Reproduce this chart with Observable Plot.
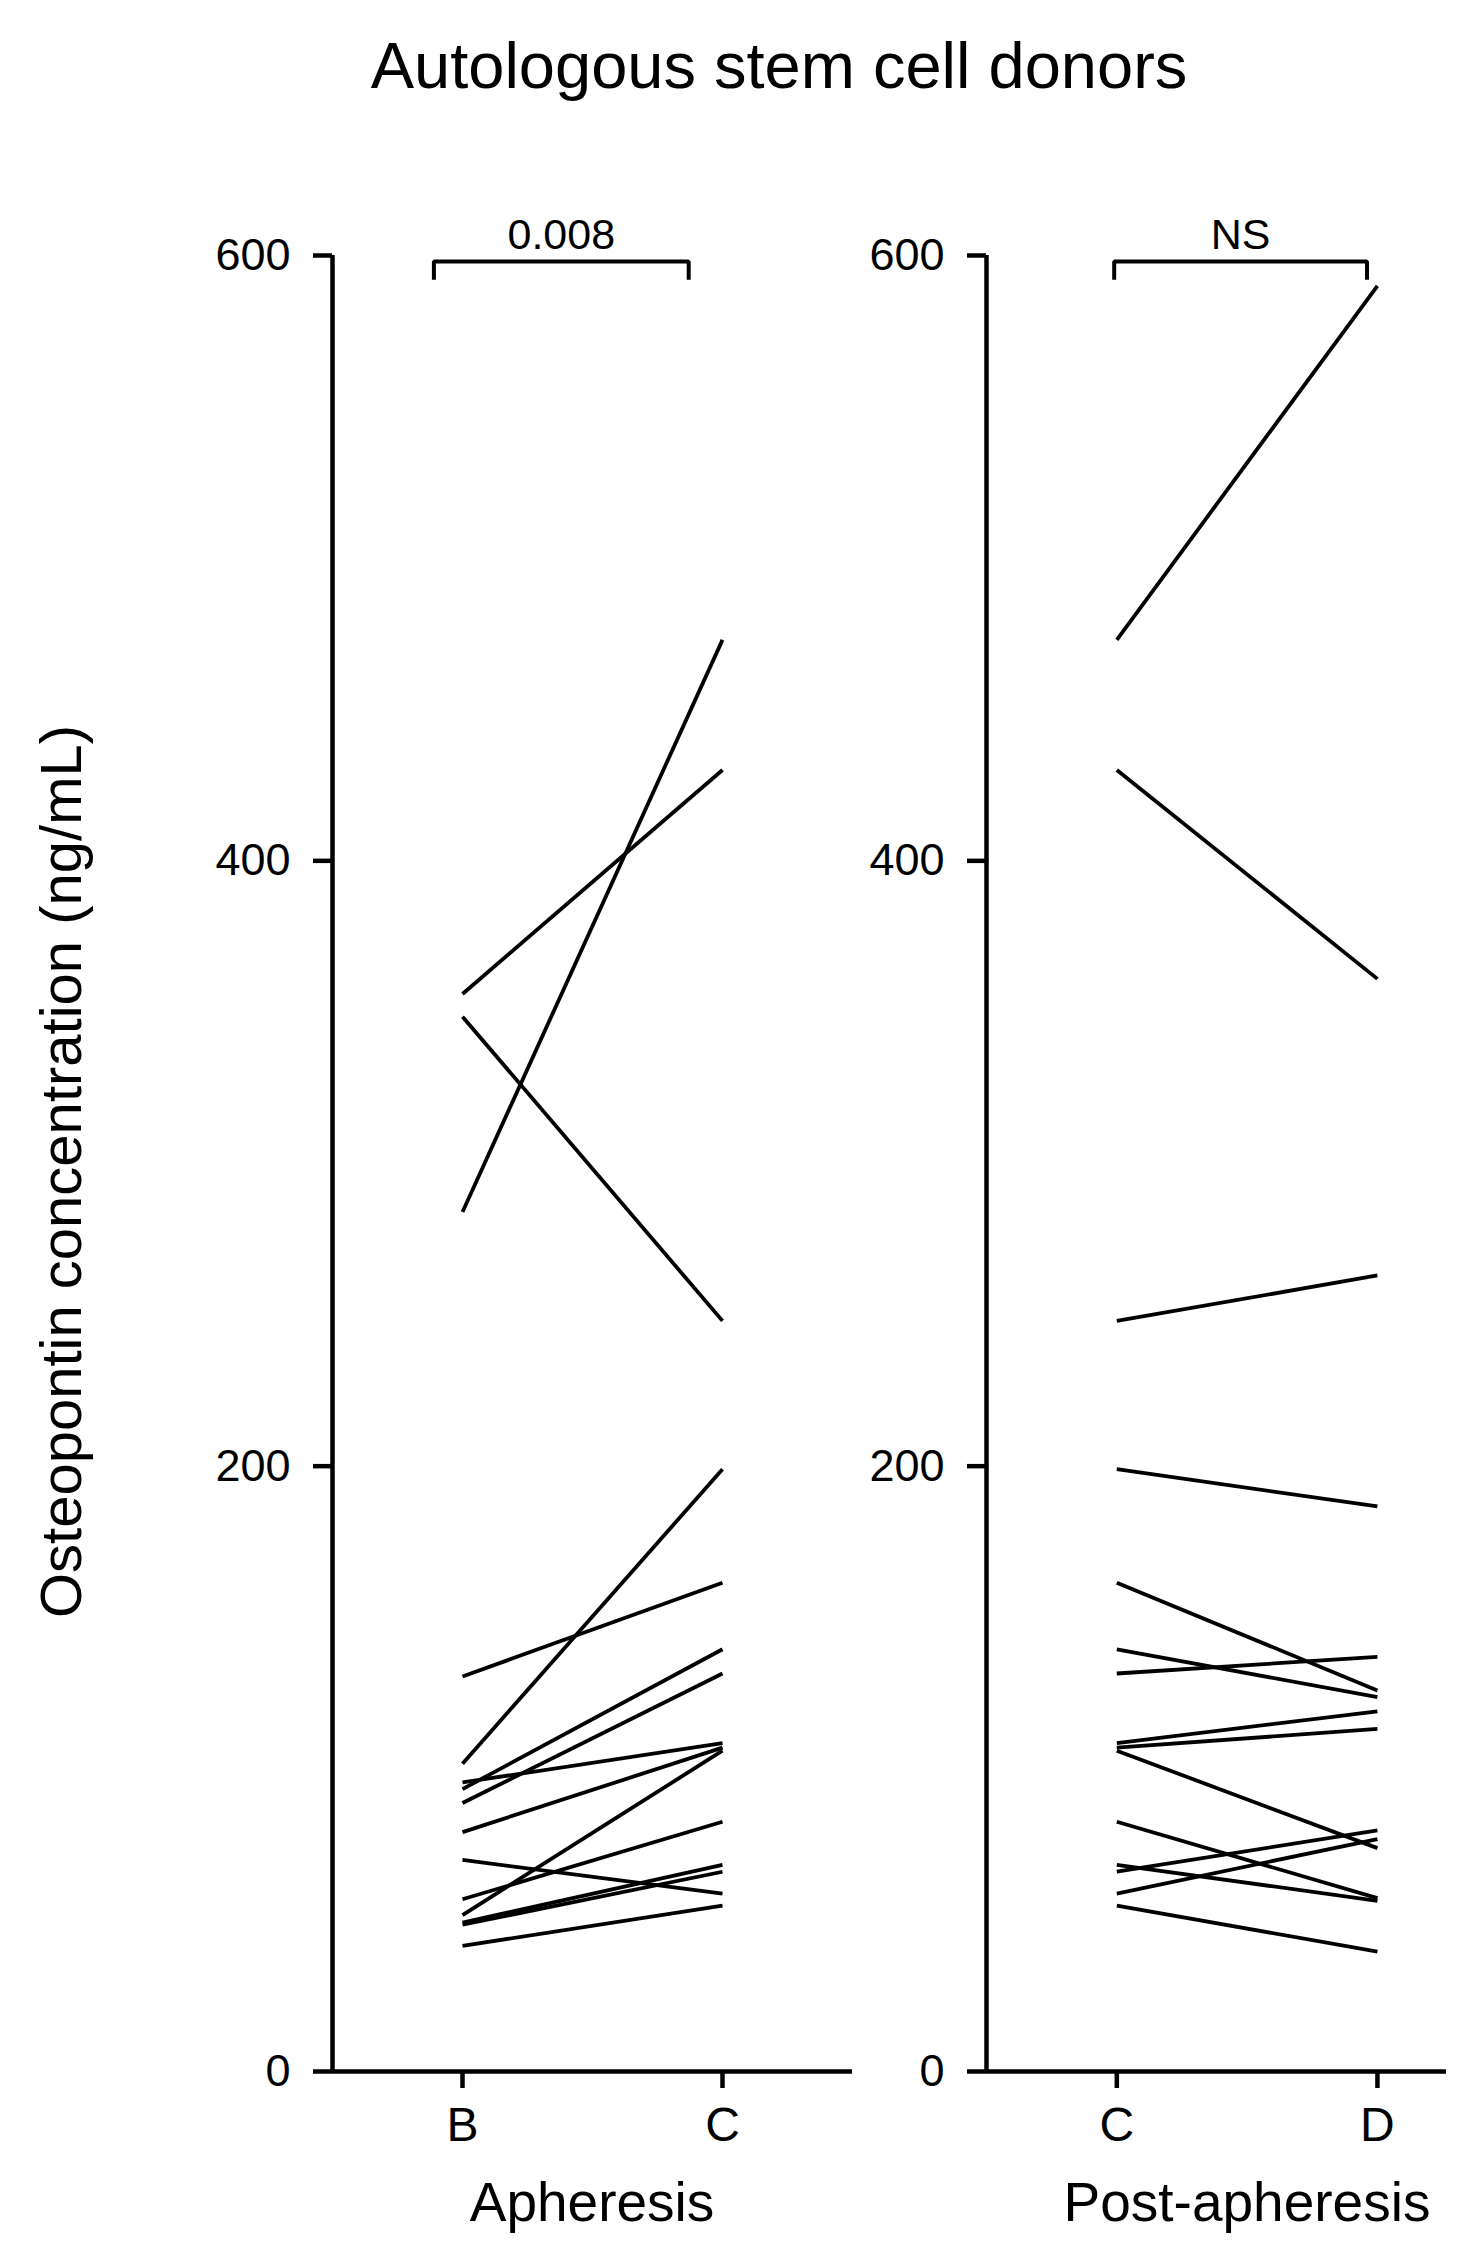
<!DOCTYPE html>
<html>
<head>
<meta charset="utf-8">
<script src="https://cdn.jsdelivr.net/npm/d3@7"></script>
<script src="https://cdn.jsdelivr.net/npm/@observablehq/plot@0.6"></script>
<style>
  body { margin: 0; background: #fff; }
  #figure { position: relative; width: 1473px; height: 2248px; background: #fff;
            font-family: "Liberation Sans", Arial, Helvetica, sans-serif; color: #000; }
  .txt { position: absolute; white-space: nowrap; line-height: 1; transform: translateX(-50%); }
  .panel { position: absolute; top: 0; }
</style>
</head>
<body>
<div id="figure">
  <div class="txt" style="left:779px; top:33px; font-size:65px;">Autologous stem cell donors</div>
  <div class="panel" id="apheresis" style="left:0px;"></div>
  <div class="panel" id="post" style="left:870px;"></div>
  <div class="txt" style="left:592px; top:2175px; font-size:55px;">Apheresis</div>
  <div class="txt" style="left:1247px; top:2175px; font-size:55px;">Post-apheresis</div>
</div>
<script>
// Osteopontin (ng/mL) per donor at each sampling time
const yTicks = [0, 200, 400, 600];
const apheresisTimes = ["B", "C"];
const postTimes = ["C", "D"];
const donorB = [284, 356, 348.5, 101.7, 130.5, 93.3, 88.7, 95.5, 79.1, 51.7, 56.9, 49.2, 48.5, 69.9, 41.5];
const donorC = [473, 430, 248, 199, 161.5, 139.5, 131.5, 108.5, 107, 106, 82.5, 68.3, 66, 58.8, 54.8];
const donorD = [590, 361, 263, 186.7, 125.9, 123.7, 137, 119, 113.2, 73.8, 57.3, 56.4, 79.7, 76.8, 39.6];

// Significance brackets (x in time-index units, y in ng/mL)
const pLabels = ["0.008", "NS"];
const bracketFrom = [-0.11, -0.01];
const bracketTo = [0.87, 0.96];
const bracketTop = 598;
const bracketFoot = 592;

const yTitle = "Osteopontin concentration (ng/mL)";
const FONT = '"Liberation Sans", Arial, Helvetica, sans-serif';

function pairs(first, second) {
  return first.flatMap((v, i) => [
    {donor: i, t: 0, v},
    {donor: i, t: 1, v: second[i]}
  ]);
}

function bracket(k) {
  return [
    {x: bracketFrom[k], y: bracketFoot},
    {x: bracketFrom[k], y: bracketTop},
    {x: bracketTo[k], y: bracketTop},
    {x: bracketTo[k], y: bracketFoot}
  ];
}

function panel({times, first, second, k, xDomain, width, marginLeft, marginRight, withTitle}) {
  const marks = [
    Plot.ruleY([0], {stroke: "black", strokeWidth: 4.5}),
    Plot.ruleX([xDomain[0]], {stroke: "black", strokeWidth: 4.5}),
    Plot.axisY({ticks: yTicks, tickSize: 19, tickPadding: 23, fontSize: 45, strokeWidth: 4.5, label: null}),
    Plot.axisX({ticks: [0, 1], tickFormat: i => times[i], tickSize: 17, tickPadding: 18, fontSize: 48, strokeWidth: 4.5, label: null}),
    Plot.line(pairs(first, second), {x: "t", y: "v", z: "donor", stroke: "black", strokeWidth: 3.8, strokeLinecap: "butt"}),
    Plot.line(bracket(k), {x: "x", y: "y", stroke: "black", strokeWidth: 4, strokeLinejoin: "miter", strokeLinecap: "butt"}),
    Plot.text([{x: (bracketFrom[k] + bracketTo[k]) / 2, y: bracketTop, label: pLabels[k]}],
      {x: "x", y: "y", text: "label", fontSize: 43, lineAnchor: "bottom", dy: -13})
  ];
  if (withTitle) {
    marks.push(Plot.text([yTitle], {
      frameAnchor: "left", textAnchor: "middle", lineAnchor: "middle",
      rotate: -90, dx: -270, dy: 8, fontSize: 58
    }));
  }
  return Plot.plot({
    width,
    height: 2248,
    marginTop: 255,
    marginBottom: 177,
    marginLeft,
    marginRight,
    style: {fontFamily: FONT, background: "transparent", overflow: "visible", maxWidth: "none", color: "black"},
    x: {type: "linear", domain: xDomain},
    y: {type: "linear", domain: [0, 600]},
    marks
  });
}

document.getElementById("apheresis").append(panel({
  times: apheresisTimes, first: donorB, second: donorC, k: 0,
  xDomain: [-0.5, 1.5], width: 870, marginLeft: 332, marginRight: 18, withTitle: true
}));

document.getElementById("post").append(panel({
  times: postTimes, first: donorC, second: donorD, k: 1,
  xDomain: [-0.5, 1.265], width: 603, marginLeft: 116, marginRight: 27, withTitle: false
}));
</script>
</body>
</html>
